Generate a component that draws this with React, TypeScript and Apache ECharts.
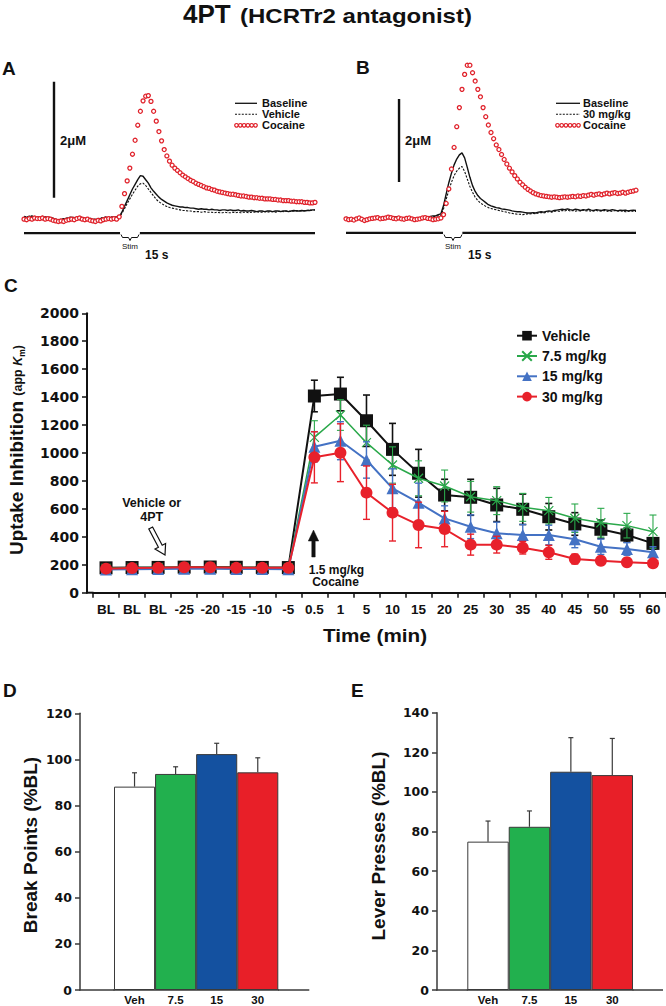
import { useEffect, useRef } from "react";
import * as echarts from "echarts";

const SANS = "'Liberation Sans', Arial, Helvetica, sans-serif";
const WIDE = "'DejaVu Sans', Verdana, sans-serif";

// ---------- Panels A & B : voltammetric traces (µM above baseline), one sample every 0.5 s
const TRACE_STEP_S = 0.5;

const traceABaseline = [
  0.02, 0.01, 0.03, 0.02, 0.01, 0.02, 0.0, 0.01, 0.02, 0.01,
  0.0, -0.01, -0.03, -0.04, -0.03, -0.02, -0.01, 0.0, 0.01, 0.0,
  0.01, 0.02, 0.0, -0.01, -0.02, -0.01, -0.03, -0.03, -0.02, -0.01,
  0.0, 0.01, 0.0, 0.01, 0.02, 0.01, 0.02, 0.1, 0.2, 0.3,
  0.4, 0.5, 0.58, 0.66, 0.73, 0.72, 0.66, 0.6, 0.52, 0.46,
  0.41, 0.36, 0.32, 0.29, 0.26, 0.24, 0.22, 0.21, 0.2, 0.19,
  0.19, 0.18, 0.18, 0.17, 0.17, 0.16, 0.15, 0.16, 0.15, 0.15,
  0.14, 0.15, 0.14, 0.14, 0.13, 0.14, 0.14, 0.13, 0.14, 0.13,
  0.13, 0.14, 0.12, 0.13, 0.12, 0.12, 0.13, 0.12, 0.11, 0.12,
  0.12, 0.11, 0.12, 0.12, 0.11, 0.12, 0.12, 0.11, 0.12, 0.12,
  0.11, 0.12, 0.13, 0.12, 0.12, 0.13, 0.12, 0.13, 0.13, 0.14,
  0.14,
];
const traceAVehicle = [
  0.03, 0.02, 0.02, 0.04, 0.02, 0.01, 0.02, 0.03, 0.01, 0.02,
  0.01, 0.0, -0.02, -0.03, -0.02, -0.01, 0.0, 0.01, 0.02, 0.01,
  0.02, 0.01, 0.01, 0.0, -0.01, 0.0, -0.02, -0.02, -0.01, 0.0,
  0.01, 0.02, 0.01, 0.02, 0.01, 0.02, 0.01, 0.08, 0.16, 0.25,
  0.33, 0.41, 0.48, 0.55, 0.59, 0.6, 0.56, 0.5, 0.44, 0.38,
  0.32, 0.28, 0.25, 0.22, 0.2, 0.18, 0.17, 0.16, 0.15, 0.14,
  0.13, 0.13, 0.12, 0.12, 0.11, 0.11, 0.11, 0.1, 0.11, 0.1,
  0.1, 0.1, 0.09, 0.1, 0.09, 0.09, 0.1, 0.09, 0.09, 0.1,
  0.09, 0.1, 0.09, 0.1, 0.1, 0.09, 0.1, 0.1, 0.11, 0.1,
  0.1, 0.11, 0.1, 0.11, 0.11, 0.1, 0.11, 0.12, 0.11, 0.12,
  0.12, 0.11, 0.12, 0.13, 0.12, 0.12, 0.13, 0.13, 0.14, 0.13,
  0.14,
];
const traceACocaine = [
  -0.02, -0.03, -0.01, -0.02, 0.0, -0.01, -0.01, 0.0, -0.02, -0.01,
  -0.02, -0.04, -0.05, -0.06, -0.05, -0.06, -0.04, -0.03, -0.02, -0.03,
  -0.01, 0.0, -0.02, -0.03, -0.02, -0.04, -0.05, -0.06, -0.04, -0.05,
  -0.03, -0.02, -0.01, -0.02, -0.01, -0.02, 0.02, 0.2, 0.42, 0.64,
  0.86, 1.1, 1.34, 1.6, 1.84, 2.02, 2.1, 2.11, 2.01, 1.84,
  1.67, 1.49, 1.33, 1.18, 1.07, 0.98, 0.91, 0.86, 0.82, 0.78,
  0.74, 0.71, 0.68, 0.65, 0.63, 0.6, 0.58, 0.56, 0.54, 0.52,
  0.51, 0.49, 0.48, 0.46, 0.45, 0.44, 0.43, 0.42, 0.41, 0.41,
  0.4, 0.39, 0.38, 0.38, 0.37, 0.36, 0.36, 0.35, 0.35, 0.34,
  0.34, 0.33, 0.33, 0.33, 0.32, 0.32, 0.31, 0.31, 0.3, 0.3,
  0.3, 0.29, 0.29, 0.28, 0.28, 0.28, 0.27, 0.27, 0.26, 0.26,
  0.27,
];
const traceBBaseline = [
  0.02, 0.0, -0.03, -0.02, 0.01, -0.01, -0.04, -0.05, -0.03, -0.02,
  0.0, 0.01, -0.01, 0.0, 0.02, 0.01, -0.01, 0.0, 0.02, 0.03,
  0.01, -0.01, 0.0, 0.01, 0.02, 0.0, -0.02, -0.01, 0.0, 0.01,
  0.03, 0.02, 0.04, 0.05, 0.05, 0.08, 0.1, 0.3, 0.58, 0.85,
  1.08, 1.28, 1.42, 1.52, 1.57, 1.45, 1.22, 0.98, 0.78, 0.64,
  0.54, 0.47, 0.42, 0.37, 0.32, 0.29, 0.27, 0.25, 0.24, 0.22,
  0.21, 0.2, 0.19, 0.17, 0.16, 0.15, 0.15, 0.14, 0.13, 0.12,
  0.12, 0.13, 0.12, 0.14, 0.15, 0.14, 0.16, 0.17, 0.16, 0.18,
  0.19, 0.2, 0.21, 0.2, 0.22, 0.2, 0.19, 0.21, 0.2, 0.18,
  0.2, 0.19, 0.21, 0.19, 0.18, 0.2, 0.19, 0.18, 0.2, 0.19,
  0.18, 0.2, 0.19, 0.17, 0.19, 0.18, 0.19, 0.17, 0.18, 0.19,
  0.18,
];
const traceB30 = [
  0.0, -0.02, -0.04, -0.03, -0.01, -0.03, -0.06, -0.07, -0.05, -0.03,
  -0.02, 0.0, -0.02, -0.01, 0.01, 0.0, -0.02, -0.01, 0.01, 0.02,
  0.0, -0.02, -0.01, 0.0, 0.01, -0.01, -0.03, -0.02, -0.01, 0.0,
  0.02, 0.01, 0.03, 0.03, 0.04, 0.05, 0.06, 0.22, 0.45, 0.67,
  0.86, 1.02, 1.13, 1.2, 1.24, 1.12, 0.94, 0.76, 0.62, 0.5,
  0.42, 0.36, 0.32, 0.28, 0.25, 0.23, 0.21, 0.2, 0.18, 0.17,
  0.15, 0.14, 0.12, 0.11, 0.1, 0.09, 0.09, 0.08, 0.09, 0.1,
  0.1, 0.11, 0.1, 0.12, 0.13, 0.12, 0.14, 0.15, 0.14, 0.16,
  0.17, 0.16, 0.18, 0.17, 0.19, 0.17, 0.18, 0.16, 0.18, 0.17,
  0.19, 0.17, 0.18, 0.16, 0.17, 0.18, 0.16, 0.17, 0.18, 0.16,
  0.17, 0.16, 0.18, 0.17, 0.16, 0.17, 0.15, 0.16, 0.17, 0.16,
  0.16,
];
const traceBCocaine = [
  -0.02, -0.04, -0.03, -0.05, -0.02, 0.0, -0.03, -0.06, -0.04, -0.02,
  -0.01, 0.0, 0.01, -0.02, -0.01, 0.0, 0.02, 0.01, -0.01, -0.02,
  0.0, -0.02, -0.03, -0.01, 0.0, -0.02, -0.04, -0.03, -0.02, 0.0,
  0.01, -0.01, -0.02, -0.04, -0.03, -0.02, 0.0, 0.08, 0.35, 0.7,
  1.18, 1.7, 2.2, 2.66, 3.1, 3.46, 3.68, 3.68, 3.5, 3.3,
  3.1, 2.92, 2.66, 2.44, 2.24, 2.06, 1.91, 1.76, 1.65, 1.53,
  1.41, 1.3, 1.2, 1.11, 1.02, 0.94, 0.86, 0.8, 0.74, 0.69,
  0.65, 0.61, 0.58, 0.56, 0.54, 0.53, 0.52, 0.51, 0.5, 0.51,
  0.5, 0.49, 0.5, 0.51, 0.5, 0.51, 0.52, 0.51, 0.53, 0.52,
  0.54, 0.53, 0.55, 0.57, 0.55, 0.57, 0.58, 0.56, 0.58, 0.6,
  0.58, 0.6, 0.61, 0.59, 0.6, 0.62, 0.6, 0.62, 0.64, 0.65,
  0.67,
];

// ---------- Panel C : uptake inhibition (app Km)
const timeLabels = [
  "BL", "BL", "BL", "-25", "-20", "-15", "-10", "-5", "0.5", "1", "5",
  "10", "15", "20", "25", "30", "35", "40", "45", "50", "55", "60",
];
const vehicleKm = [178, 180, 181, 183, 184, 182, 181, 180, 1408, 1422, 1231, 1026, 855, 699, 683, 628, 597, 544, 492, 454, 413, 353];
const vehicleSem = [8, 8, 8, 8, 8, 8, 8, 8, 113, 120, 184, 186, 171, 113, 129, 119, 109, 95, 81, 66, 50, 40];
const dose75Km = [175, 178, 180, 182, 183, 180, 180, 178, 1112, 1272, 1074, 914, 819, 764, 687, 659, 611, 587, 533, 501, 480, 437];
const dose75Sem = [8, 8, 8, 8, 8, 8, 8, 8, 119, 110, 125, 130, 125, 114, 110, 100, 100, 95, 102, 103, 88, 119];
const dose15Km = [166, 168, 170, 172, 172, 170, 170, 168, 1045, 1088, 950, 747, 644, 532, 472, 425, 413, 413, 382, 329, 313, 289];
const dose15Sem = [8, 8, 8, 8, 8, 8, 8, 8, 108, 136, 130, 140, 140, 90, 85, 80, 75, 70, 60, 55, 45, 40];
const dose30Km = [172, 176, 178, 182, 182, 178, 178, 178, 969, 1002, 716, 573, 485, 456, 344, 344, 322, 289, 241, 229, 218, 210];
const dose30Sem = [8, 8, 8, 8, 8, 8, 8, 8, 183, 207, 191, 203, 163, 127, 75, 60, 45, 50, 35, 25, 20, 15];

// ---------- Panels D & E
const barGroups = ["Veh", "7.5", "15", "30"];
const breakPoints = [88.2, 93.7, 102.3, 94.4];
const breakPointsSem = [6.0, 3.1, 4.7, 6.3];
const leverPresses = [74.9, 82.4, 110.2, 108.5];
const leverPressesSem = [10.4, 8.0, 17.2, 18.5];

const BAR_COLORS = ["#ffffff", "#22b04e", "#1451a0", "#e81f28"];
const RED = "#e0222b";

function traceData(values: number[]) {
  return values.map((v, i) => [i * TRACE_STEP_S, v]);
}

function errorBars(
  values: number[], sems: number[], axis: number, color: string,
  width: number, cap: number, upOnly: boolean, z: number
) {
  return {
    type: "custom",
    xAxisIndex: axis,
    yAxisIndex: axis,
    silent: true,
    z,
    data: values.map((v, i) => [i, upOnly ? v : v - sems[i], v + sems[i]]),
    encode: { x: 0, y: [1, 2] },
    renderItem: (_p: any, api: any) => {
      const i = api.value(0);
      const lo = api.coord([i, api.value(1)]);
      const hi = api.coord([i, api.value(2)]);
      const st = () => ({ stroke: color, lineWidth: width, fill: "none" });
      const children: any[] = [
        { type: "line", shape: { x1: lo[0], y1: lo[1], x2: hi[0], y2: hi[1] }, style: st() },
        { type: "line", shape: { x1: hi[0] - cap, y1: hi[1], x2: hi[0] + cap, y2: hi[1] }, style: st() },
      ];
      if (!upOnly) {
        children.push({ type: "line", shape: { x1: lo[0] - cap, y1: lo[1], x2: lo[0] + cap, y2: lo[1] }, style: st() });
      }
      return { type: "group", children };
    },
  };
}

function txt(x: number, y: number, text: string, font: string, o: any = {}) {
  const align = o.align ?? "center";
  const va = o.va ?? "middle";
  return {
    type: "text",
    x, y,
    silent: true,
    rotation: o.rotation ?? 0,
    scaleX: o.scaleX ?? 1,
    z: 50,
    style: {
      text, font, fill: o.fill ?? "#111",
      align, verticalAlign: va, textAlign: align, textVerticalAlign: va,
    },
  };
}

function seg(x1: number, y1: number, x2: number, y2: number, w: number, color = "#111", dash?: number[]) {
  return { type: "line", silent: true, z: 50, shape: { x1, y1, x2, y2 }, style: { stroke: color, lineWidth: w, lineDash: dash } };
}

function traceLegend(x0: number, x1: number, tx: number, labels: string[]) {
  const els: any[] = [];
  const ys = [103.3, 114.3, 125.3];
  els.push(seg(x0, ys[0], x1, ys[0], 1.3));
  els.push(seg(x0, ys[1], x1, ys[1], 1.1, "#111", [2, 1.4]));
  for (let k = 0; k < 6; k++) {
    els.push({
      type: "circle", silent: true, z: 50,
      shape: { cx: x0 + 1.5 + (k * (x1 - x0 - 3)) / 5, cy: ys[2], r: 1.8 },
      style: { fill: "#fff", stroke: RED, lineWidth: 1.2 },
    });
  }
  labels.forEach((l, k) => els.push(txt(tx, ys[k], l, `bold 11px ${SANS}`, { align: "left" })));
  return els;
}

function stimBracket(x: number) {
  return {
    type: "polyline", silent: true, z: 50,
    shape: { points: [[x, 234.5], [x + 1.5, 237.5], [x + 7.5, 237.5], [x + 9, 240.5], [x + 10.5, 237.5], [x + 16.5, 237.5], [x + 18, 234.5]] },
    style: { stroke: "#111", lineWidth: 1, fill: "none" },
  };
}

function buildOption(): any {
  const hiddenValueAxis = (grid: number, min: number, max: number) => ({
    gridIndex: grid, type: "value", min, max, show: false, splitLine: { show: false },
  });

  const traceLine = (name: string, values: number[], axis: number, dashed: boolean) => ({
    name, type: "line", xAxisIndex: axis, yAxisIndex: axis, data: traceData(values),
    showSymbol: false, symbol: "none", silent: true, z: 2,
    lineStyle: { color: "#111", width: dashed ? 1.1 : 1.4, type: dashed ? [2.2, 1.4] : "solid" },
  });
  const traceCircles = (name: string, values: number[], axis: number) => ({
    name, type: "line", xAxisIndex: axis, yAxisIndex: axis, data: traceData(values),
    symbol: "circle", symbolSize: 4, showSymbol: true, showAllSymbol: true, silent: true, z: 3,
    lineStyle: { width: 0, opacity: 0 },
    itemStyle: { color: "#ffffff", borderColor: RED, borderWidth: 1.3 },
  });
  const bar = (name: string, data: number[][], axis: number) => ({
    name, type: "line", xAxisIndex: axis, yAxisIndex: axis, data, symbol: "none", silent: true, z: 2,
    lineStyle: { color: "#111", width: 2.4 },
  });

  const kmLine = (name: string, values: number[], color: string, symbol: string, size: number, width: number, z: number, extra: any = {}) => ({
    name, type: "line", xAxisIndex: 2, yAxisIndex: 2, data: values, symbol, symbolSize: size,
    showSymbol: true, showAllSymbol: true, z, silent: true,
    lineStyle: { color, width },
    itemStyle: { color, ...extra },
  });

  const barSeries = (values: number[], axis: number) => ({
    type: "bar", xAxisIndex: axis, yAxisIndex: axis, barWidth: "100%", silent: true, z: 2,
    data: values.map((v, i) => ({ value: v, itemStyle: { color: BAR_COLORS[i] } })),
    itemStyle: { borderColor: "#3a3a3a", borderWidth: 1 },
  });

  const plain = (v: number) => String(v);

  const barYAxis = (grid: number, max: number, offset: number) => ({
    gridIndex: grid, type: "value", min: 0, max, interval: 20, offset,
    axisLine: { show: true, lineStyle: { color: "#3a3a3a", width: 1.5 } },
    axisTick: { show: true, length: 5, lineStyle: { color: "#3a3a3a", width: 1.5 } },
    splitLine: { show: false },
    axisLabel: { formatter: plain, fontFamily: WIDE, fontWeight: "bold", fontSize: 12.5, color: "#111", margin: 8, showMinLabel: true, showMaxLabel: true },
  });
  const barXAxis = (grid: number) => ({
    gridIndex: grid, type: "category", data: barGroups,
    axisLine: { show: true, lineStyle: { color: "#3a3a3a", width: 1.5 } },
    axisTick: { show: false },
    axisLabel: { fontFamily: SANS, fontWeight: "bold", fontSize: 11.5, color: "#111", margin: 3.5, interval: 0 },
  });

  const graphics: any[] = [
    // title
    txt(183, 14, "4PT", `bold 26px ${SANS}`, { align: "left" }),
    txt(240, 16.2, "(HCRTr2 antagonist)", `bold 20px ${SANS}`, { align: "left", scaleX: 1.2 }),
    // panel letters
    txt(2, 68, "A", `bold 19px ${SANS}`, { align: "left" }),
    txt(356, 67.5, "B", `bold 19px ${SANS}`, { align: "left" }),
    txt(4, 285.5, "C", `bold 19px ${SANS}`, { align: "left" }),
    txt(3, 690, "D", `bold 19px ${SANS}`, { align: "left" }),
    txt(351, 690, "E", `bold 19px ${SANS}`, { align: "left" }),
    // scale labels A/B
    txt(60, 140, "2μM", `bold 13px ${SANS}`, { align: "left" }),
    txt(405, 140, "2μM", `bold 13px ${SANS}`, { align: "left" }),
    stimBracket(121),
    stimBracket(444),
    txt(130, 246.5, "Stim", `8px ${SANS}`),
    txt(453, 246.5, "Stim", `8px ${SANS}`),
    txt(145, 254.5, "15 s", `bold 12px ${SANS}`, { align: "left" }),
    txt(468, 254.5, "15 s", `bold 12px ${SANS}`, { align: "left" }),
    ...traceLegend(235, 257, 262, ["Baseline", "Vehicle", "Cocaine"]),
    ...traceLegend(556, 580, 583, ["Baseline", "30 mg/kg", "Cocaine"]),
    // panel C y-axis title
    {
      type: "text", x: 15, y: 450, rotation: Math.PI / 2, silent: true, z: 50,
      style: {
        text: "{m|Uptake Inhibition }{s|(app }{k|K}{u|m}{s|)}",
        fill: "#111",
        align: "center", verticalAlign: "middle", textAlign: "center", textVerticalAlign: "middle",
        rich: {
          m: { fontFamily: SANS, fontWeight: "bold", fontSize: 19, fill: "#111", verticalAlign: "bottom", lineHeight: 22 },
          s: { fontFamily: SANS, fontWeight: "bold", fontSize: 12.5, fill: "#111", verticalAlign: "bottom", lineHeight: 22, padding: [0, 0, 2, 0] },
          k: { fontFamily: SANS, fontWeight: "bold", fontStyle: "italic", fontSize: 12.5, fill: "#111", verticalAlign: "bottom", lineHeight: 22, padding: [0, 0, 2, 0] },
          u: { fontFamily: SANS, fontWeight: "bold", fontSize: 8.5, fill: "#111", verticalAlign: "bottom", lineHeight: 22 },
        },
      },
    },
    // annotations C
    txt(151.7, 503.3, "Vehicle or", `bold 12.5px ${SANS}`),
    txt(151.7, 516.7, "4PT", `bold 12.5px ${SANS}`),
    {
      type: "polygon", silent: true, z: 50,
      shape: { points: [[148.8, 529], [158.4, 547.2], [155.0, 549.0], [165, 555], [165.6, 543.4], [162.2, 545.2], [152.6, 527]] },
      style: { fill: "#fff", stroke: "#111", lineWidth: 1.2 },
    },
    {
      type: "polygon", silent: true, z: 50,
      shape: { points: [[311.8, 557], [311.8, 541], [308.3, 541], [313.5, 530], [318.7, 541], [315.2, 541], [315.2, 557]] },
      style: { fill: "#111", stroke: "#111", lineWidth: 0.5 },
    },
    txt(336.5, 569.8, "1.5 mg/kg", `bold 12px ${SANS}`),
    txt(335.5, 582.3, "Cocaine", `bold 12px ${SANS}`),
    txt(375, 636, "Time (min)", `bold 18px ${SANS}`, { scaleX: 1.15 }),
    // axis line extensions
    seg(86.3, 592.7, 93.5, 592.7, 2, "#111"),
    seg(79.3, 990, 114.5, 990, 1.5, "#3a3a3a"),
    seg(278, 990, 309.3, 990, 1.5, "#3a3a3a"),
    seg(436.3, 990, 467.8, 990, 1.5, "#3a3a3a"),
    seg(632.5, 990, 663, 990, 1.5, "#3a3a3a"),
    // D/E y titles
    txt(30, 845, "Break Points (%BL)", `bold 19px ${SANS}`, { rotation: Math.PI / 2 }),
    txt(378, 846, "Lever Presses (%BL)", `bold 19px ${SANS}`, { rotation: Math.PI / 2 }),
  ];

  return {
    animation: false,
    backgroundColor: "#ffffff",
    grid: [
      { left: 24, top: 73, width: 291, height: 174, outerBoundsMode: "none" },
      { left: 346, top: 52, width: 290, height: 197.1, outerBoundsMode: "none" },
      { left: 93, top: 313.3, width: 573, height: 279.4, outerBoundsMode: "none" },
      { left: 114, top: 713.3, width: 164.3, height: 276.7, outerBoundsMode: "none" },
      { left: 467.3, top: 712.7, width: 165.7, height: 277.3, outerBoundsMode: "none" },
    ],
    xAxis: [
      hiddenValueAxis(0, 0, 55),
      hiddenValueAxis(1, 0, 55),
      {
        gridIndex: 2, type: "category", data: timeLabels, boundaryGap: true,
        axisLine: { show: true, lineStyle: { color: "#111", width: 2 } },
        axisTick: { show: true, length: 5, lineStyle: { color: "#111", width: 1.5 } },
        axisLabel: { interval: 0, fontFamily: SANS, fontWeight: "bold", fontSize: 13.5, color: "#111", margin: 10, hideOverlap: false },
      },
      barXAxis(3),
      barXAxis(4),
    ],
    yAxis: [
      hiddenValueAxis(0, -0.5, 2.5),
      hiddenValueAxis(1, -0.75, 4.0),
      {
        gridIndex: 2, type: "value", min: 0, max: 2000, interval: 200, offset: 6,
        axisLine: { show: true, lineStyle: { color: "#111", width: 2 } },
        axisTick: { show: true, length: 5, lineStyle: { color: "#111", width: 1.5 } },
        splitLine: { show: false },
        axisLabel: { formatter: plain, fontFamily: WIDE, fontWeight: "bold", fontSize: 14, color: "#111", margin: 8, showMinLabel: true, showMaxLabel: true },
      },
      barYAxis(3, 120, 34),
      barYAxis(4, 140, 30.3),
    ],
    legend: {
      data: ["Vehicle", "7.5 mg/kg", "15 mg/kg", "30 mg/kg"],
      orient: "vertical", left: 511, top: 323.7, itemWidth: 20, itemHeight: 12, itemGap: 6.3,
      selectedMode: false,
      textStyle: { fontFamily: SANS, fontWeight: "bold", fontSize: 14, color: "#111" },
    },
    graphic: { elements: graphics },
    series: [
      // Panel A
      traceLine("A baseline", traceABaseline, 0, false),
      traceLine("A vehicle", traceAVehicle, 0, true),
      traceCircles("A cocaine", traceACocaine, 0),
      bar("A scale", [[5.67, 0.35], [5.67, 2.35]], 0),
      bar("A time 1", [[0, -0.26], [18.15, -0.26]], 0),
      bar("A time 2", [[21.9, -0.26], [55, -0.26]], 0),
      // Panel B
      traceLine("B baseline", traceBBaseline, 1, false),
      traceLine("B 30", traceB30, 1, true),
      traceCircles("B cocaine", traceBCocaine, 1),
      bar("B scale", [[10.06, 0.87], [10.06, 2.87]], 1),
      bar("B time 1", [[0, -0.36], [18.4, -0.36]], 1),
      bar("B time 2", [[22.07, -0.36], [55, -0.36]], 1),
      // Panel C
      errorBars(vehicleKm, vehicleSem, 2, "#111", 1.6, 3.5, false, 2),
      kmLine("Vehicle", vehicleKm, "#111", "rect", 13, 2, 3),
      errorBars(dose75Km, dose75Sem, 2, "#2aa84a", 1.1, 3.5, false, 4),
      kmLine("7.5 mg/kg", dose75Km, "#2aa84a", "path://M0 0L10 10M10 0L0 10", 9, 1.5, 5, { borderColor: "#2aa84a", borderWidth: 1.2 }),
      errorBars(dose15Km, dose15Sem, 2, "#4472c4", 1.4, 3.5, false, 6),
      kmLine("15 mg/kg", dose15Km, "#4472c4", "triangle", 12, 2, 7),
      errorBars(dose30Km, dose30Sem, 2, "#e8212b", 1.4, 3.5, false, 8),
      kmLine("30 mg/kg", dose30Km, "#e8212b", "circle", 12, 2, 9),
      // Panel D
      barSeries(breakPoints, 3),
      errorBars(breakPoints, breakPointsSem, 3, "#3a3a3a", 1.2, 2.5, true, 3),
      // Panel E
      barSeries(leverPresses, 4),
      errorBars(leverPresses, leverPressesSem, 4, "#3a3a3a", 1.2, 2.5, true, 3),
    ],
  };
}

export default function App() {
  const ref = useRef<HTMLDivElement | null>(null);
  useEffect(() => {
    if (!ref.current) return;
    const chart = echarts.init(ref.current, undefined, { renderer: "svg" });
    chart.setOption(buildOption());
    return () => chart.dispose();
  }, []);
  return (
    <div
      ref={ref}
      style={{ position: "absolute", left: 0, top: 0, width: 666, height: 1006, background: "#fff" }}
    />
  );
}
